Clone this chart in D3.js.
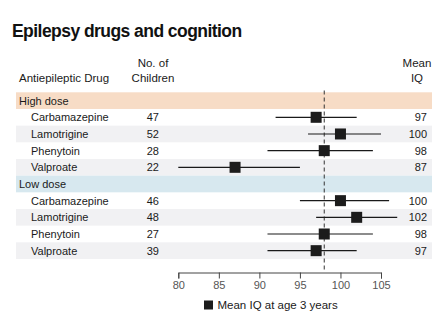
<!DOCTYPE html>
<html>
<head>
<meta charset="utf-8">
<script src="https://cdn.jsdelivr.net/npm/d3@7"></script>
<style>
  body { margin: 0; background: #fff; }
  svg { display: block; font-family: "Liberation Sans", Arial, sans-serif; }
  .axis text { font-size: 11px; fill: #555; font-family: "Liberation Sans", Arial, sans-serif; }
  .axis path, .axis line { stroke: #444; }
</style>
</head>
<body>
<div id="chart"></div>
<script>
var groups = ['High dose', 'Low dose'];
var drugs = ['Carbamazepine', 'Lamotrigine', 'Phenytoin', 'Valproate'];
var highN = [47, 52, 28, 22];
var lowN = [46, 48, 27, 39];
var highIQ = [97, 100, 98, 87];
var lowIQ = [100, 102, 98, 97];
var highLow = [92, 96, 91, 80];
var highHigh = [102, 105, 104, 95];
var lowLow = [95, 97, 91, 91];
var lowHigh = [106, 107, 104, 102];
var overallIQ = 98;
var tickValues = [80, 85, 90, 95, 100, 105];

var width = 443, height = 334;

// one list of rows: a group header followed by its four drugs
var rows = [];
[[highN, highIQ, highLow, highHigh], [lowN, lowIQ, lowLow, lowHigh]].forEach(function(g, gi) {
	rows.push({id: 'g' + gi, header: true, label: groups[gi], group: gi});
	drugs.forEach(function(name, i) {
		rows.push({id: gi + '-' + i, header: false, label: name, group: gi, index: i,
			n: g[0][i], iq: g[1][i], lo: g[2][i], hi: g[3][i]});
	});
});

var svg = d3.select('#chart').append('svg')
	.attr('width', width)
	.attr('height', height);

var xScale = d3.scaleLinear()
	.domain([80, 105])
	.range([178.3, 381]);

var yScale = d3.scaleBand()
	.domain(rows.map(d => d.id))
	.range([92.3, 259])
	.padding(0);

var rowH = yScale.bandwidth();

// title
svg.append('text')
	.attr('x', 12)
	.attr('y', 37)
	.attr('font-size', 17.5)
	.attr('font-weight', 'bold')
	.attr('letter-spacing', -0.55)
	.attr('fill', '#111')
	.text('Epilepsy drugs and cognition');

// column headers
var head = svg.append('g').attr('font-size', 11.5).attr('fill', '#1a1a1a');
head.append('text').attr('x', 19).attr('y', 82).text('Antiepileptic Drug');
head.append('text').attr('x', 153).attr('y', 67).attr('text-anchor', 'middle').text('No. of');
head.append('text').attr('x', 153).attr('y', 82).attr('text-anchor', 'middle').text('Children');
head.append('text').attr('x', 417).attr('y', 67).attr('text-anchor', 'middle').text('Mean');
head.append('text').attr('x', 417).attr('y', 82).attr('text-anchor', 'middle').text('IQ');

// row backgrounds: coloured group bands, light stripes on every other drug
svg.selectAll('.rowbg')
	.data(rows.filter(d => d.header || d.index % 2 === 1))
	.enter()
	.append('rect')
	.attr('class', 'rowbg')
	.attr('x', 16)
	.attr('y', d => yScale(d.id))
	.attr('width', 416)
	.attr('height', rowH)
	.attr('fill', d => d.header ? (d.group === 0 ? '#f7dcc6' : '#d7e8ef') : '#f1f1f3');

// reference line at the overall mean
svg.append('line')
	.attr('x1', xScale(overallIQ))
	.attr('x2', xScale(overallIQ))
	.attr('y1', 90.5)
	.attr('y2', 272.5)
	.attr('stroke', '#333')
	.attr('stroke-width', 1)
	.attr('stroke-dasharray', '4,3');

var labels = svg.append('g').attr('font-size', 11).attr('fill', '#1a1a1a');

labels.selectAll('.label')
	.data(rows)
	.enter()
	.append('text')
	.attr('x', d => d.header ? 19 : 31)
	.attr('y', d => yScale(d.id) + rowH / 2 + 4)
	.text(d => d.label);

var drugRows = rows.filter(d => !d.header);

labels.selectAll('.count')
	.data(drugRows)
	.enter()
	.append('text')
	.attr('x', 159)
	.attr('y', d => yScale(d.id) + rowH / 2 + 4)
	.attr('text-anchor', 'end')
	.text(d => d.n);

labels.selectAll('.iq')
	.data(drugRows)
	.enter()
	.append('text')
	.attr('x', 427)
	.attr('y', d => yScale(d.id) + rowH / 2 + 4)
	.attr('text-anchor', 'end')
	.text(d => d.iq);

// confidence intervals
svg.selectAll('.ci')
	.data(drugRows)
	.enter()
	.append('line')
	.attr('x1', d => xScale(d.lo))
	.attr('x2', d => xScale(d.hi))
	.attr('y1', d => yScale(d.id) + rowH / 2)
	.attr('y2', d => yScale(d.id) + rowH / 2)
	.attr('stroke', '#1a1a1a')
	.attr('stroke-width', 1.2);

// mean markers
var box = 11;
svg.selectAll('.mean')
	.data(drugRows)
	.enter()
	.append('rect')
	.attr('x', d => xScale(d.iq) - box / 2)
	.attr('y', d => yScale(d.id) + rowH / 2 - box / 2)
	.attr('width', box)
	.attr('height', box)
	.attr('fill', '#1c1c1c');

// x axis
var xAxis = d3.axisBottom(xScale)
	.tickValues(tickValues)
	.tickSize(6)
	.tickSizeOuter(6)
	.tickPadding(3);

svg.append('g')
	.attr('class', 'axis')
	.attr('transform', 'translate(0, 272.5)')
	.call(xAxis);

// legend
svg.append('rect')
	.attr('x', 204)
	.attr('y', 300.5)
	.attr('width', 9)
	.attr('height', 9)
	.attr('fill', '#1c1c1c');

svg.append('text')
	.attr('x', 217.5)
	.attr('y', 309)
	.attr('font-size', 11.5)
	.attr('fill', '#1a1a1a')
	.text('Mean IQ at age 3 years');
</script>
</body>
</html>
